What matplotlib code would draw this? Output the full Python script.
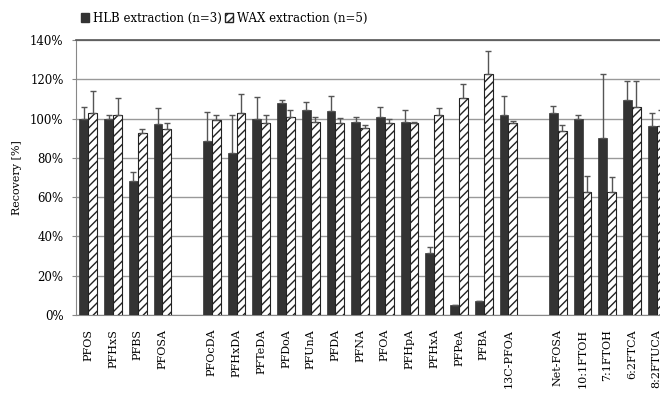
import matplotlib
matplotlib.use("Agg")
import matplotlib.pyplot as plt
import numpy as np
from matplotlib.patches import Patch
from matplotlib.ticker import FuncFormatter

plt.rcParams['font.family'] = ['DejaVu Serif']
plt.rcParams['hatch.linewidth'] = 1.0

categories = ["PFOS", "PFHxS", "PFBS", "PFOSA", "",
              "PFOcDA", "PFHxDA", "PFTeDA", "PFDoA", "PFUnA", "PFDA", "PFNA",
              "PFOA", "PFHpA", "PFHxA", "PFPeA", "PFBA", "13C-PFOA", "",
              "Net-FOSA", "10:1FTOH", "7:1FTOH", "6:2FTCA", "8:2FTUCA"]

hlb = [100, 100, 68, 97, np.nan,
       88.5, 82.5, 100, 108, 104.5, 104, 98.5,
       101, 98.5, 31.5, 5, 7, 102, np.nan,
       103, 100, 90, 109.5, 96]
hlb_err = [6, 2, 5, 8.5, np.nan,
           15, 19.5, 11, 1.5, 4, 7.5, 2.5,
           5, 6, 3.3, 0, 0, 9.5, np.nan,
           3.4, 1.7, 32.7, 9.5, 7]

wax = [103, 102, 92.5, 94.5, np.nan,
       99.5, 103, 98, 101, 98.5, 98, 95,
       98, 98, 102, 110.5, 122.5, 98, np.nan,
       93.5, 62.5, 62.5, 106, 96]
wax_err = [11, 8.5, 2, 3.4, np.nan,
           2.4, 9.3, 4, 3.6, 2.4, 2.4, 1.7,
           2, 0.5, 3.5, 7, 12, 0.6, np.nan,
           3.4, 8.3, 7.7, 13, 8.6]

W, H = 660, 394
fig = plt.figure(figsize=(W / 100, H / 100), dpi=100)
ax = fig.add_axes([76 / W, 79 / H, 593 / W, 275 / H])

x = np.arange(len(categories))
bw = 0.36
ax.bar(x - 0.18, hlb, bw, color='#333333', edgecolor='#333333', linewidth=0.5, zorder=3)
ax.bar(x + 0.18, wax, bw, color='white', edgecolor='#222222', hatch='////', linewidth=0.8, zorder=3)

err_kw = dict(fmt='none', ecolor='#555555', elinewidth=1.0, capsize=2.5, capthick=1.0, zorder=4)
ax.errorbar(x - 0.18, hlb, yerr=[np.zeros(len(hlb)), hlb_err], **err_kw)
ax.errorbar(x + 0.18, wax, yerr=[np.zeros(len(wax)), wax_err], **err_kw)

ax.set_xlim(-0.5, len(categories) - 0.5)
ax.set_ylim(0, 140)
ax.set_yticks(np.arange(0, 141, 20))
ax.yaxis.set_major_formatter(FuncFormatter(lambda v, p: f"{int(v)}%"))
ax.yaxis.grid(True, color='#999999', linewidth=1.0, zorder=0)
ax.set_axisbelow(True)

ax.set_xticks(x)
ax.set_xticklabels(categories, rotation=90, fontsize=8)
ax.tick_params(axis='x', length=0, pad=10)
ax.tick_params(axis='y', labelsize=8.5, length=3, direction='out', color='#888888', pad=6)

for s in ['left', 'bottom']:
    ax.spines[s].set_color('#888888')
ax.spines['top'].set_color('#555555')
ax.spines['top'].set_linewidth(1.2)
ax.spines['right'].set_visible(False)

ax.set_ylabel("Recovery [%]", fontsize=8, labelpad=6)

handles = [Patch(facecolor='#333333', edgecolor='#333333'),
           Patch(facecolor='white', edgecolor='#222222', hatch='////')]
fig.legend(handles, ["HLB extraction (n=3)", "WAX extraction (n=5)"],
           loc='upper left', bbox_to_anchor=(76 / W, 1 - 7 / H), ncol=2,
           frameon=False, fontsize=8.5, handlelength=0.7, handleheight=0.7,
           handletextpad=0.3, columnspacing=0.3, borderaxespad=0)

fig.savefig("out.png", dpi=100)
